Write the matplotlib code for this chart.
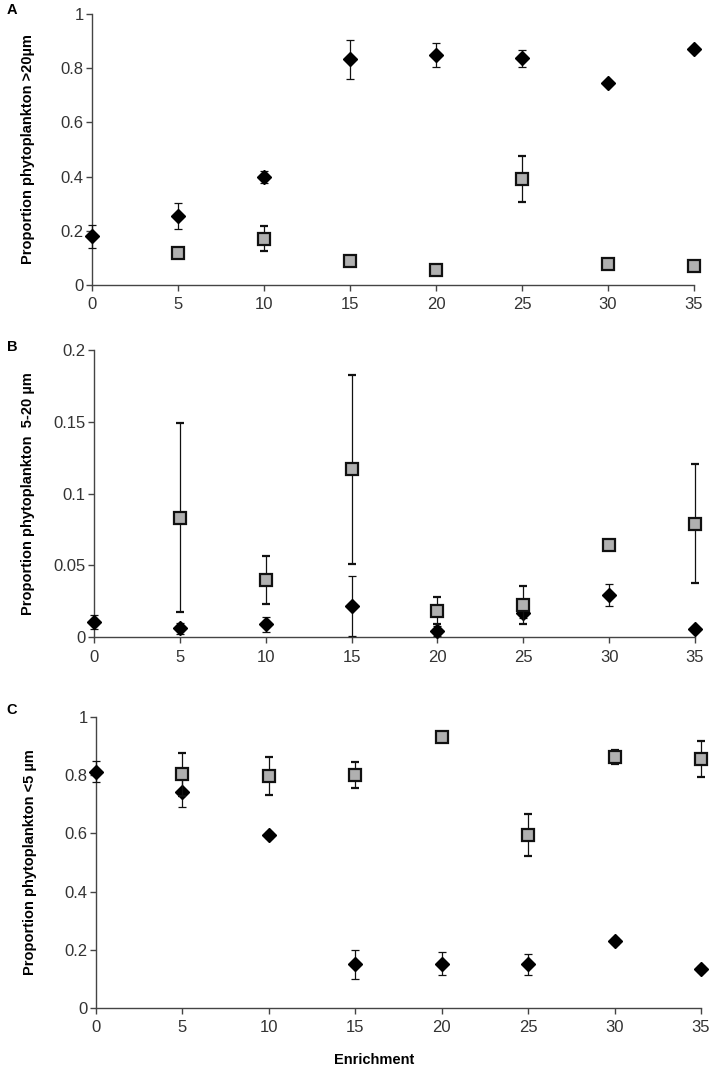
import numpy as np
import matplotlib
matplotlib.use("Agg")
import matplotlib.pyplot as plt
import matplotlib.transforms as mtransforms

plt.rcParams['font.family'] = ['Liberation Sans', 'DejaVu Sans']

enrichment = [0, 5, 10, 15, 20, 25, 30, 35]

# Panel A: >20 um
a_diam = [0.180, 0.254, 0.398, 0.833, 0.849, 0.837, 0.746, 0.870]
a_diam_err = [0.042, 0.048, 0.022, 0.072, 0.044, 0.032, 0.0, 0.0]
a_sq = [np.nan, 0.119, 0.171, 0.090, 0.055, 0.391, 0.077, 0.071]
a_sq_err = [np.nan, 0.0, 0.047, 0.0, 0.0, 0.086, 0.010, 0.0]

# Panel B: 5-20 um
b_diam = [0.0105, 0.0061, 0.0088, 0.0216, 0.0044, 0.017, 0.0293, 0.0054]
b_diam_err = [0.005, 0.004, 0.0053, 0.021, 0.0035, 0.004, 0.0078, 0.0]
b_sq = [np.nan, 0.0831, 0.0397, 0.1169, 0.0183, 0.0223, 0.0643, 0.079]
b_sq_err = [np.nan, 0.066, 0.0165, 0.066, 0.0095, 0.013, 0.0, 0.0415]

# Panel C: <5 um
c_diam = [0.812, 0.742, 0.595, 0.150, 0.152, 0.150, 0.231, 0.133]
c_diam_err = [0.036, 0.05, 0.01, 0.05, 0.039, 0.035, 0.01, 0.01]
c_sq = [np.nan, 0.803, 0.797, 0.801, 0.932, 0.593, 0.863, 0.855]
c_sq_err = [np.nan, 0.074, 0.064, 0.045, 0.0, 0.072, 0.025, 0.062]

W, H = 714, 1071
fig = plt.figure(figsize=(W / 100, H / 100), dpi=100)

def rect(l, r, t, b):
    return [l / W, 1 - b / H, (r - l) / W, (b - t) / H]

panels = [
    dict(rect=rect(92, 694, 14, 285), d=a_diam, de=a_diam_err, s=a_sq, se=a_sq_err,
         ylim=(0, 1), yticks=[0, 0.2, 0.4, 0.6, 0.8, 1],
         yticklabels=['0', '0.2', '0.4', '0.6', '0.8', '1'],
         ylabel='Proportion phytoplankton >20µm', letter='A', lpos=(12, 10), ylx=28),
    dict(rect=rect(94, 695, 350, 637), d=b_diam, de=b_diam_err, s=b_sq, se=b_sq_err,
         ylim=(0, 0.2), yticks=[0, 0.05, 0.1, 0.15, 0.2],
         yticklabels=['0', '0.05', '0.1', '0.15', '0.2'],
         ylabel='Proportion phytoplankton  5-20 µm', letter='B', lpos=(12, 347), ylx=28),
    dict(rect=rect(96, 701, 717, 1008), d=c_diam, de=c_diam_err, s=c_sq, se=c_sq_err,
         ylim=(0, 1), yticks=[0, 0.2, 0.4, 0.6, 0.8, 1],
         yticklabels=['0', '0.2', '0.4', '0.6', '0.8', '1'],
         ylabel='Proportion phytoplankton <5 µm', letter='C', lpos=(12, 710), ylx=30),
]

spine_col = '#444444'
for p in panels:
    ax = fig.add_axes(p['rect'])
    ax.errorbar(enrichment, p['d'], yerr=p['de'], fmt='D', ms=6.8, mfc='black',
                mec='black', ecolor='#111111', elinewidth=0.9, capsize=3.2,
                capthick=0.9, zorder=3, clip_on=False)
    ax.errorbar(enrichment, p['s'], yerr=p['se'], fmt='s', ms=8.5, mfc='#b0b0b0',
                mec='#111111', mew=1.6, ecolor='#111111', elinewidth=0.9,
                capsize=3.2, capthick=0.9, zorder=4, clip_on=False)
    ax.set_xlim(0, 35)
    ax.set_ylim(*p['ylim'])
    ax.set_xticks(enrichment)
    ax.set_xticklabels([str(v) for v in enrichment])
    ax.set_yticks(p['yticks'])
    ax.set_yticklabels(p['yticklabels'])
    for s in ['top', 'right']:
        ax.spines[s].set_visible(False)
    for s in ['left', 'bottom']:
        ax.spines[s].set_color(spine_col)
        ax.spines[s].set_linewidth(1.0)
    ax.tick_params(direction='out', length=4, width=1.0, color=spine_col,
                   labelsize=12, labelcolor='#333333')
    ax.tick_params(axis='y', pad=2)
    ax.tick_params(axis='x', pad=5)
    ax.set_ylabel(p['ylabel'], fontsize=10.5, fontweight='bold')
    blend = mtransforms.blended_transform_factory(fig.transFigure, ax.transAxes)
    ax.yaxis.set_label_coords((p['ylx'] + 7) / W, 0.5, transform=blend)
    fig.text(p['lpos'][0] / W, 1 - p['lpos'][1] / H, p['letter'],
             fontsize=10.5, fontweight='bold', ha='center', va='center')

fig.text(374 / W, 1 - 1060 / H, 'Enrichment', fontsize=10.5, fontweight='bold',
         ha='center', va='center')

fig.savefig('out.png', dpi=100)
